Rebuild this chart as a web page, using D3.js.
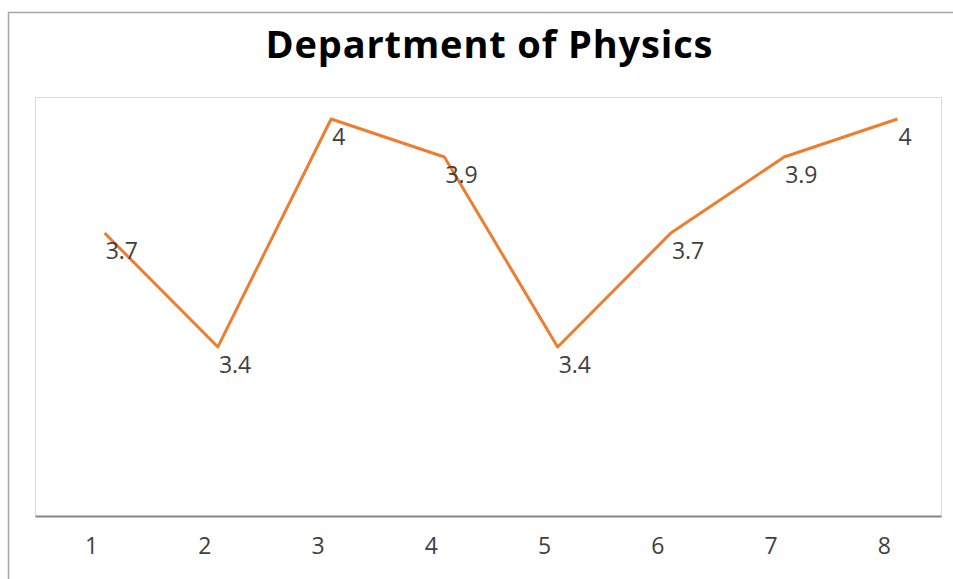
<!DOCTYPE html>
<html>
<head>
<meta charset="utf-8">
<script src="https://cdn.jsdelivr.net/npm/d3@7"></script>
<style>
    body { margin: 0; background: #fff; }
</style>
</head>
<body>
<div id="chart"></div>
<script>
// chart data
let categories = ['1', '2', '3', '4', '5', '6', '7', '8'];
let gpaValues = [3.7, 3.4, 4, 3.9, 3.4, 3.7, 3.9, 4];
let yRange = [2.955, 4.058];   // axis min / max

let width = 953, height = 579;
let plot = {left: 35, right: 941, top: 97, bottom: 516};

let svg = d3.select('#chart').append('svg')
    .attr('width', width)
    .attr('height', height);

// outer chart border
svg.append('rect')
    .attr('x', 8.5).attr('y', 12.5)
    .attr('width', width + 20).attr('height', height + 20)
    .attr('fill', '#fff')
    .attr('stroke', '#a6a6a6')
    .attr('stroke-width', 1.5);

// title
svg.append('text')
    .attr('x', 489)
    .attr('y', 58)
    .attr('text-anchor', 'middle')
    .attr('font-family', 'Open Sans, sans-serif')
    .attr('font-weight', 'bold')
    .attr('font-size', '38px')
    .attr('textLength', 447)
    .attr('lengthAdjust', 'spacing')
    .attr('fill', '#000')
    .text('Department of Physics');

// plot area
svg.append('rect')
    .attr('x', plot.left + 0.5).attr('y', plot.top + 0.5)
    .attr('width', plot.right - plot.left).attr('height', plot.bottom - plot.top)
    .attr('fill', 'none')
    .attr('stroke', '#d9d9d9');

// scales
let x = d3.scaleBand()
    .domain(categories)
    .range([plot.left, plot.right]);

let y = d3.scaleLinear()
    .domain(yRange)
    .range([plot.bottom, plot.top]);

let pointShift = 13;   // line sits a bit right of the label centres
let px = (d, i) => x(categories[i]) + x.bandwidth() / 2 + pointShift;

// x axis
let xAxis = svg.append('g')
    .attr('transform', `translate(0, ${plot.bottom})`)
    .call(d3.axisBottom(x).tickSize(0).tickPadding(22));

xAxis.select('.domain')
    .attr('stroke', '#868686')
    .attr('stroke-width', 2);

xAxis.selectAll('text')
    .attr('font-family', 'Open Sans, sans-serif')
    .attr('font-size', '23px')
    .attr('fill', '#404040');

// line
let line = d3.line()
    .x((d, i) => px(d, i))
    .y(d => y(d));

svg.append('path')
    .datum(gpaValues)
    .attr('d', line)
    .attr('fill', 'none')
    .attr('stroke', '#ed7d31')
    .attr('stroke-width', 3)
    .attr('stroke-linejoin', 'round');

// data labels
svg.append('g')
    .selectAll('text')
    .data(gpaValues)
    .enter()
    .append('text')
    .attr('x', (d, i) => px(d, i) + 1)
    .attr('y', d => y(d) + 26)
    .attr('font-family', 'Open Sans, sans-serif')
    .attr('font-size', '23px')
    .attr('fill', '#404040')
    .text(d => d);
</script>
</body>
</html>
